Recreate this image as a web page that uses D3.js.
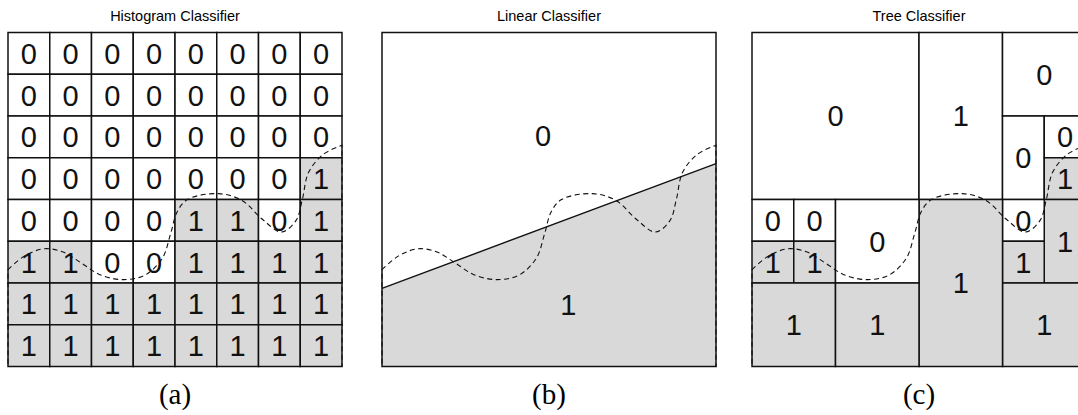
<!DOCTYPE html>
<html>
<head>
<meta charset="utf-8">
<script src="https://cdn.jsdelivr.net/npm/d3@7"></script>
<style>
    body { margin: 0; background: #fff; }
    text { font-family: "Liberation Sans", Arial, sans-serif; }
</style>
</head>
<body>
<svg id="chart" width="1078" height="415"></svg>
<script>
var panelTitles = ["Histogram Classifier", "Linear Classifier", "Tree Classifier"];
var panelTags = ["(a)", "(b)", "(c)"];

// histogram classifier: one string per row, top to bottom
var histRows = [
    "00000000",
    "00000000",
    "00000000",
    "00000001",
    "00001101",
    "11001111",
    "11111111",
    "11111111"
];

// true class boundary (dashed), in grid units, y counted from the top
var boundaryX = [0, 0.4, 0.86, 1.3, 1.74, 2.2, 2.77, 3.3, 3.7, 3.9, 4.05, 4.3, 5.04, 5.6, 6.1, 6.55, 6.9, 7.05, 7.2, 7.55, 8];
var boundaryY = [5.68, 5.35, 5.18, 5.25, 5.51, 5.8, 5.92, 5.8, 5.4, 4.8, 4.3, 4.0, 3.86, 4.02, 4.48, 4.78, 4.5, 4.0, 3.35, 2.92, 2.7];

// linear classifier: the separating line and its two labels
var linearLine = [[0, 6.13], [8, 3.14]];
var linearLabels = [["0", 3.86, 2.46], ["1", 4.46, 6.51]];

// tree classifier leaves: [col0, row0, col1, row1, label, shaded]
var treeLeaves = [
    [0, 0, 4, 4, "0", false],
    [4, 0, 6, 4, "1", false],
    [6, 0, 8, 2, "0", false],
    [6, 2, 7, 4, "0", false],
    [7, 2, 8, 3, "0", false],
    [7, 3, 8, 4, "1", true],
    [7, 4, 8, 6, "1", true],
    [6, 4, 7, 5, "0", false],
    [6, 5, 7, 6, "1", true],
    [6, 6, 8, 8, "1", true],
    [4, 4, 6, 8, "1", true],
    [0, 4, 1, 5, "0", false],
    [1, 4, 2, 5, "0", false],
    [0, 5, 1, 6, "1", true],
    [1, 5, 2, 6, "1", true],
    [2, 4, 4, 6, "0", false],
    [0, 6, 2, 8, "1", true],
    [2, 6, 4, 8, "1", true]
];

var svg = d3.select("#chart");
var panelLeft = [8, 382, 752],
    panelTop = 32.5,
    panelSize = 334,
    shade = "#d9d9d9",
    ink = "#111";

function makePanel(i) {
    var g = svg.append("g");
    var x = d3.scaleLinear().domain([0, 8]).range([panelLeft[i], panelLeft[i] + panelSize]),
        y = d3.scaleLinear().domain([0, 8]).range([panelTop, panelTop + panelSize]);
    var cx = panelLeft[i] + panelSize / 2;

    g.append("text")
        .attr("x", cx)
        .attr("y", 21)
        .attr("text-anchor", "middle")
        .attr("font-size", 14.5)
        .text(panelTitles[i]);

    g.append("text")
        .attr("x", cx)
        .attr("y", 404)
        .attr("text-anchor", "middle")
        .attr("font-size", 29)
        .style("font-family", "'Liberation Serif', 'DejaVu Serif', serif")
        .text(panelTags[i]);

    return { g: g, x: x, y: y };
}

function drawBoundary(p) {
    var pts = boundaryX.map(function (d, k) { return [d, boundaryY[k]]; });
    var lineFunc = d3.line()
        .x(function (d) { return p.x(d[0]); })
        .y(function (d) { return p.y(d[1]); })
        .curve(d3.curveCatmullRom);
    var d = lineFunc(pts) +
        "L" + p.x(8) + "," + p.y(8) +
        "L" + p.x(0) + "," + p.y(8) + "Z";
    p.g.append("path")
        .attr("d", d)
        .attr("fill", "none")
        .attr("stroke", ink)
        .attr("stroke-width", 1.1)
        .attr("stroke-dasharray", "5,3.5");
}

function digit(p, label, gx, gy) {
    p.g.append("text")
        .attr("x", p.x(gx))
        .attr("y", p.y(gy))
        .attr("dy", "0.36em")
        .attr("text-anchor", "middle")
        .attr("font-size", 29)
        .attr("fill", ink)
        .text(label);
}

// (a) histogram
var pa = makePanel(0);
var cells = [];
histRows.forEach(function (row, r) {
    row.split("").forEach(function (v, c) {
        cells.push({ r: r, c: c, v: v });
    });
});
pa.g.selectAll("rect.cell")
    .data(cells)
    .enter().append("rect")
    .attr("class", "cell")
    .attr("x", function (d) { return pa.x(d.c); })
    .attr("y", function (d) { return pa.y(d.r); })
    .attr("width", function (d) { return pa.x(d.c + 1) - pa.x(d.c); })
    .attr("height", function (d) { return pa.y(d.r + 1) - pa.y(d.r); })
    .attr("fill", function (d) { return d.v === "1" ? shade : "#fff"; })
    .attr("stroke", ink)
    .attr("stroke-width", 1.5);
drawBoundary(pa);
cells.forEach(function (d) { digit(pa, d.v, d.c + 0.5, d.r + 0.5); });

// (b) linear
var pb = makePanel(1);
pb.g.append("rect")
    .attr("x", pb.x(0)).attr("y", pb.y(0))
    .attr("width", panelSize).attr("height", panelSize)
    .attr("fill", "#fff");
pb.g.append("path")
    .attr("d", "M" + pb.x(linearLine[0][0]) + "," + pb.y(linearLine[0][1]) +
        "L" + pb.x(linearLine[1][0]) + "," + pb.y(linearLine[1][1]) +
        "L" + pb.x(8) + "," + pb.y(8) + "L" + pb.x(0) + "," + pb.y(8) + "Z")
    .attr("fill", shade);
pb.g.append("line")
    .attr("x1", pb.x(linearLine[0][0])).attr("y1", pb.y(linearLine[0][1]))
    .attr("x2", pb.x(linearLine[1][0])).attr("y2", pb.y(linearLine[1][1]))
    .attr("stroke", ink).attr("stroke-width", 1.4);
pb.g.append("rect")
    .attr("x", pb.x(0)).attr("y", pb.y(0))
    .attr("width", panelSize).attr("height", panelSize)
    .attr("fill", "none").attr("stroke", ink).attr("stroke-width", 1.5);
drawBoundary(pb);
linearLabels.forEach(function (d) { digit(pb, d[0], d[1], d[2]); });

// (c) tree
var pc = makePanel(2);
pc.g.selectAll("rect.leaf")
    .data(treeLeaves)
    .enter().append("rect")
    .attr("class", "leaf")
    .attr("x", function (d) { return pc.x(d[0]); })
    .attr("y", function (d) { return pc.y(d[1]); })
    .attr("width", function (d) { return pc.x(d[2]) - pc.x(d[0]); })
    .attr("height", function (d) { return pc.y(d[3]) - pc.y(d[1]); })
    .attr("fill", function (d) { return d[5] ? shade : "#fff"; })
    .attr("stroke", ink)
    .attr("stroke-width", 1.5);
drawBoundary(pc);
treeLeaves.forEach(function (d) {
    digit(pc, d[4], (d[0] + d[2]) / 2, (d[1] + d[3]) / 2);
});
</script>
</body>
</html>
